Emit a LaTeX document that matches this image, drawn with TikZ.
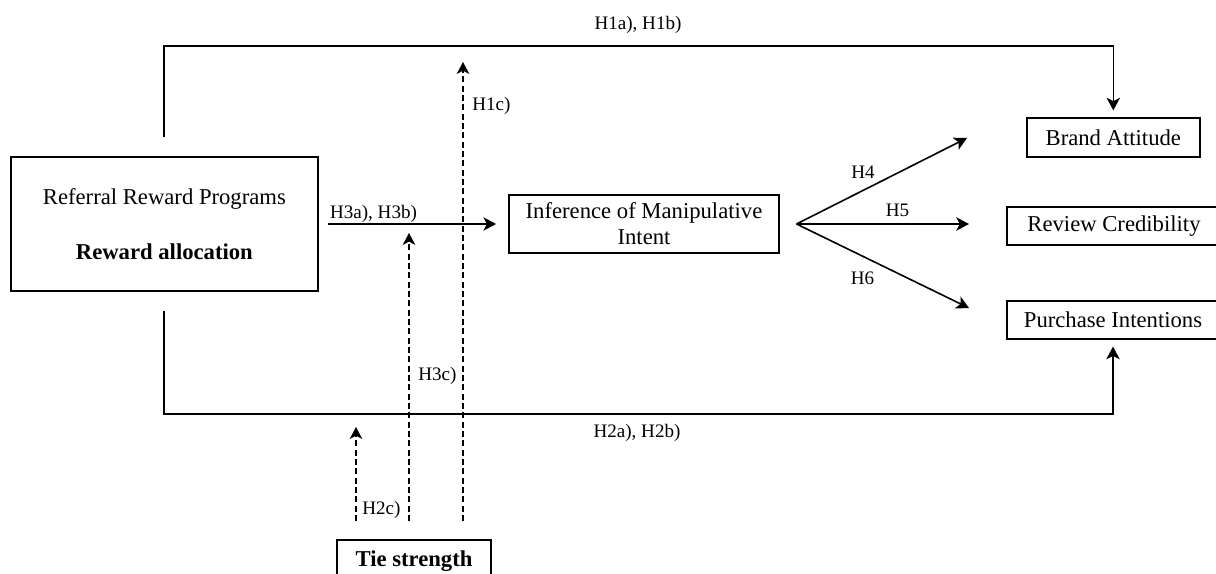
\documentclass[tikz,border=0pt]{standalone}
\usepackage{fontspec}
\setmainfont{Liberation Serif}
\usetikzlibrary{arrows.meta,calc}
\tikzset{
  box/.style={draw, line width=1.3pt, inner sep=0pt, align=center, font=\fontsize{17}{19.5}\selectfont},
  conn/.style={line width=1.2pt, -{Stealth[length=9.5pt, width=10pt, inset=2.5pt]}},
  dashconn/.style={line width=1.1pt, dash pattern=on 4.5pt off 2.5pt, -{Stealth[length=9pt, width=9.5pt, inset=2.5pt]}},
  lbl/.style={font=\fontsize{14.3}{17}\selectfont, inner sep=0pt, anchor=base}
}
\begin{document}
\begin{tikzpicture}[x=0.75pt, y=-0.75pt]
\useasboundingbox (0,0) rectangle (1216,574);
% boxes (sizes in pt = px * 0.75)
\node[box, minimum width=230.25pt, minimum height=100.5pt] (rrp) at (164.4,224) {Referral Reward Programs\\[21.75pt]\textbf{Reward allocation}};
\node[box, minimum width=202.5pt, minimum height=43.5pt] (inf) at (644,224) {Inference of Manipulative\\Intent};
\node[box, minimum width=129.75pt, minimum height=29.25pt] (ba) at (1113.3,137.5) {Brand Attitude};
\node[box, minimum width=160.5pt, minimum height=28.5pt] (rc) at (1114,226) {Review Credibility};
\node[box, minimum width=159pt, minimum height=28.5pt] (pi) at (1113,320) {Purchase Intentions};
\node[box, minimum width=115.5pt, minimum height=31.5pt] (tie) at (414,561) {\textbf{Tie strength}};
% coordinates
\coordinate (topstart) at (164,137);
\coordinate (topleft) at (164,46);
\coordinate (topright) at (1113.3,46);
\coordinate (botstart) at (164,311);
\coordinate (botleft) at (164,414);
\coordinate (botright) at (1113,414);
\coordinate (fan) at (796.5,224);
\coordinate (t4) at (967,138);
\coordinate (t5) at (969,224);
\coordinate (t6) at (969,308);
\coordinate (d1a) at (463,521);
\coordinate (d1b) at (463,62);
\coordinate (d3a) at (409,521);
\coordinate (d3b) at (409,233);
\coordinate (d2a) at (356,521);
\coordinate (d2b) at (356,427);
% connectors
\draw[conn, shorten >=5pt] (topstart) -- (topleft) -- (topright) -- (ba.north);
\draw[conn, shorten >=5pt] (botstart) -- (botleft) -- (botright) -- (pi.south);
\draw[conn, shorten <=6.75pt, shorten >=9pt] (rrp.east |- inf.west) -- (inf.west);
\draw[conn] (fan) -- (t4);
\draw[conn] (fan) -- (t5);
\draw[conn] (fan) -- (t6);
\draw[dashconn] (d1a) -- (d1b);
\draw[dashconn] (d3a) -- (d3b);
\draw[dashconn] (d2a) -- (d2b);
% labels
\node[lbl] (l1ab) at (638,30) {H1a), H1b)};
\node[lbl] (l2ab) at (637,437) {H2a), H2b)};
\node[lbl] (l3ab) at (373.5,218) {H3a), H3b)};
\node[lbl, anchor=base west] (l1c) at (472,111) {H1c)};
\node[lbl, anchor=base west] (l3c) at (418,380) {H3c)};
\node[lbl, anchor=base west] (l2c) at (362,514) {H2c)};
\node[lbl] (l4) at (863,178) {H4};
\node[lbl] (l5) at (897.5,216) {H5};
\node[lbl] (l6) at (862.5,284) {H6};
\end{tikzpicture}
\end{document}
